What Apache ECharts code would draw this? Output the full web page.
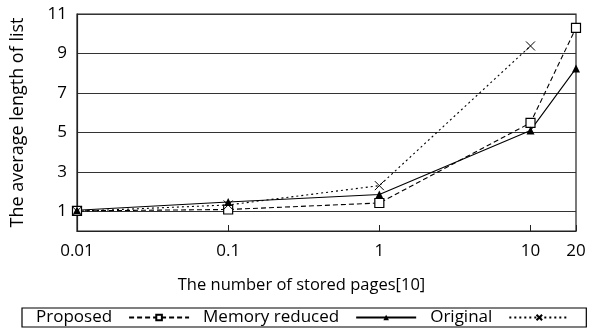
<!DOCTYPE html>
<html>
<head>
<meta charset="utf-8">
<script src="https://cdn.jsdelivr.net/npm/echarts@6/dist/echarts.min.js"></script>
<style>
html,body{margin:0;padding:0;background:#fff;}
#chart{width:603px;height:329px;}
</style>
</head>
<body>
<div id="chart"></div>
<script>
var xValues = [0.01, 0.1, 1, 10, 20];
var xTickLabels = [0.01, 0.1, 1, 10, 20];
var yTickValues = [1, 3, 5, 7, 9, 11];
var seriesNames = ['Proposed', 'Memory reduced', 'Original'];
var proposed = [1.02, 1.09, 1.42, 5.48, 10.3];
var memoryReduced = [1.05, 1.47, 1.85, 5.1, 8.24];
var original = [1.0, 1.32, 2.3, 9.38, null];

function pairs(vals) {
  var out = [];
  for (var i = 0; i < xValues.length; i++) {
    if (vals[i] !== null) out.push([xValues[i], vals[i]]);
  }
  return out;
}

var FONT = 'Open Sans';
var chart = echarts.init(document.getElementById('chart'), null, {renderer: 'canvas'});
var option = {
  animation: false,
  backgroundColor: '#fff',
  textStyle: {fontFamily: FONT, color: '#000'},
  grid: {left: 77, right: 27, top: 14, bottom: 98, show: true, borderColor: '#222', borderWidth: 1.2, containLabel: false},
  graphic: [{
    type: 'text', left: 'center', top: 277,
    style: {text: 'The number of stored pages[10]', fontFamily: FONT, fontSize: 16.5, fill: '#000'}
  }],
  xAxis: {
    type: 'log', logBase: 10, min: 0.01, max: 20,
    axisLine: {show: true, onZero: false, lineStyle: {color: '#222', width: 1.2}},
    axisTick: {show: true, inside: true, length: 6, lineStyle: {color: '#222'}, customValues: xTickLabels},
    axisLabel: {customValues: xTickLabels, fontFamily: FONT, fontSize: 17, color: '#000', margin: 12,
      formatter: function (v) { return String(Math.round(v * 100) / 100); }},
    splitLine: {show: false}, minorTick: {show: false}
  },
  yAxis: {
    type: 'value', min: 0, max: 11,
    name: 'The average length of list', nameLocation: 'middle', nameGap: 50, nameRotate: 90,
    nameTextStyle: {fontFamily: FONT, fontSize: 18, color: '#000'},
    axisLine: {show: true, lineStyle: {color: '#222', width: 1.2}},
    axisTick: {show: false, customValues: yTickValues},
    axisLabel: {customValues: yTickValues, fontFamily: FONT, fontSize: 17, color: '#000', margin: 10},
    splitLine: {show: true, lineStyle: {color: '#333', width: 1}}
  },
  legend: {
    show: true, bottom: 2, left: 22,
    align: 'right', orient: 'horizontal',
    borderColor: '#000', borderWidth: 1.2, padding: [1, 16, 1, 14],
    itemGap: 13, itemWidth: 60, itemHeight: 7,
    textStyle: {fontFamily: FONT, fontSize: 17, color: '#000', padding: [0, 12, 0, 0]},
    data: seriesNames
  },
  series: [
    {
      name: seriesNames[0], type: 'line', data: pairs(proposed),
      symbol: 'rect', symbolSize: 9, showAllSymbol: true,
      lineStyle: {color: '#000', width: 1.1, type: [5, 3]},
      itemStyle: {color: '#fff', borderColor: '#000', borderWidth: 1.2}
    },
    {
      name: seriesNames[1], type: 'line', data: pairs(memoryReduced),
      symbol: 'triangle', symbolSize: 8,
      lineStyle: {color: '#000', width: 1.1, type: 'solid'},
      itemStyle: {color: '#000', borderColor: '#000', borderWidth: 0}
    },
    {
      name: seriesNames[2], type: 'line', data: pairs(original),
      symbol: 'path://M0,0L10,10M10,0L0,10', symbolSize: 9, symbolKeepAspect: true,
      lineStyle: {color: '#000', width: 1.1, type: [2, 3]},
      itemStyle: {color: 'none', borderColor: '#000', borderWidth: 1}
    }
  ]
};
chart.setOption(option);
</script>
</body>
</html>
